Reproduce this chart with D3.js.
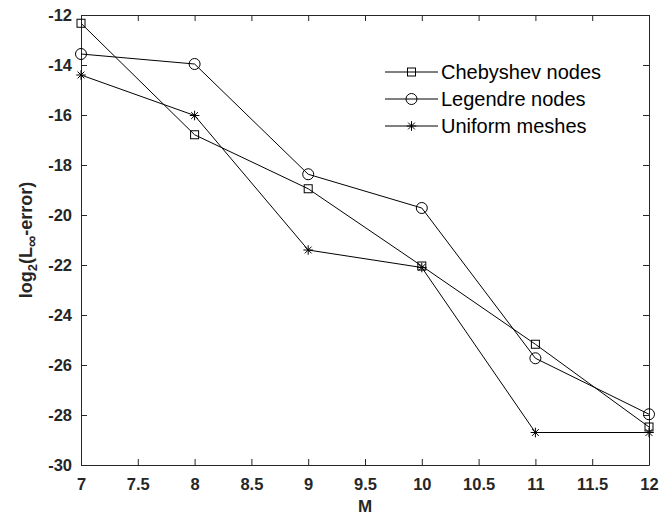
<!DOCTYPE html>
<html>
<head>
<meta charset="utf-8">
<script src="https://cdn.jsdelivr.net/npm/d3@7"></script>
<style>
  body { margin: 0; background: #fff; }
  text { font-family: "Liberation Sans", Arial, Helvetica, sans-serif; }
</style>
</head>
<body>
<svg id="chart"></svg>
<script>
var width = 659, height = 517;
var margin = {top: 15, right: 10, bottom: 52, left: 81};

// data
var mValues = [7, 8, 9, 10, 11, 12];
var chebyshev = [-12.33, -16.79, -18.95, -22.04, -25.17, -28.48];
var legendre = [-13.56, -13.96, -18.37, -19.72, -25.73, -27.97];
var uniform = [-14.4, -16.02, -21.4, -22.1, -28.7, -28.7];
var seriesNames = ["Chebyshev nodes", "Legendre nodes", "Uniform meshes"];
var markers = ["square", "circle", "star"];
var xTicks = [7, 7.5, 8, 8.5, 9, 9.5, 10, 10.5, 11, 11.5, 12];
var yTicks = [-30, -28, -26, -24, -22, -20, -18, -16, -14, -12];

var axisColor = "#262626";

var svg = d3.select("#chart")
    .attr("width", width)
    .attr("height", height);

var x = d3.scaleLinear().domain([7, 12]).range([margin.left, width - margin.right]);
var y = d3.scaleLinear().domain([-30, -12]).range([height - margin.bottom, margin.top]);

// plain hyphen minus, like the original
var fmt = function(d) { return String(d); };

// box + ticks (MATLAB style, ticks pointing inward)
function styleAxis(g) {
    g.select(".domain").attr("stroke", axisColor).attr("stroke-width", 1);
    g.selectAll(".tick line").attr("stroke", axisColor);
    g.selectAll(".tick text")
        .attr("fill", axisColor)
        .style("font-size", "16.5px")
        .style("font-weight", "bold");
}

svg.append("g")
    .attr("transform", "translate(0," + y(-30) + ")")
    .call(d3.axisBottom(x).tickValues(xTicks).tickFormat(fmt).tickSizeInner(-6).tickSizeOuter(0).tickPadding(13))
    .call(styleAxis);

svg.append("g")
    .attr("transform", "translate(0," + y(-12) + ")")
    .call(d3.axisTop(x).tickValues(xTicks).tickFormat("").tickSizeInner(-6).tickSizeOuter(0))
    .call(styleAxis);

svg.append("g")
    .attr("transform", "translate(" + x(7) + ",0)")
    .call(d3.axisLeft(y).tickValues(yTicks).tickFormat(fmt).tickSizeInner(-6).tickSizeOuter(0).tickPadding(9))
    .call(styleAxis);

svg.append("g")
    .attr("transform", "translate(" + x(12) + ",0)")
    .call(d3.axisRight(y).tickValues(yTicks).tickFormat("").tickSizeInner(-6).tickSizeOuter(0))
    .call(styleAxis);

// axis labels
svg.append("text")
    .attr("x", (x(7) + x(12)) / 2)
    .attr("y", 512)
    .attr("text-anchor", "middle")
    .attr("fill", axisColor)
    .style("font-size", "17px")
    .style("font-weight", "bold")
    .text("M");

var yLabel = svg.append("text")
    .attr("transform", "translate(32," + ((y(-12) + y(-30)) / 2) + ") rotate(-90)")
    .attr("text-anchor", "middle")
    .attr("fill", axisColor)
    .style("font-size", "18px")
    .style("font-weight", "bold");
yLabel.append("tspan").text("log");
yLabel.append("tspan").attr("dy", 5).style("font-size", "13px").text("2");
yLabel.append("tspan").attr("dy", -5).text("(L");
yLabel.append("tspan").attr("dy", 5).style("font-size", "16px").text("\u221E");
yLabel.append("tspan").attr("dy", -5).text("-error)");

// marker shapes
function drawMarker(g, type, cx, cy) {
    if (type === "square") {
        g.append("rect")
            .attr("x", cx - 4).attr("y", cy - 4)
            .attr("width", 8).attr("height", 8)
            .attr("fill", "none").attr("stroke", "#000").attr("stroke-width", 1);
    } else if (type === "circle") {
        g.append("circle")
            .attr("cx", cx).attr("cy", cy).attr("r", 5.5)
            .attr("fill", "none").attr("stroke", "#000").attr("stroke-width", 1);
    } else {
        var r = 4.8, d = 3.4;
        var p = "M" + (cx - r) + "," + cy + "L" + (cx + r) + "," + cy +
            "M" + cx + "," + (cy - r) + "L" + cx + "," + (cy + r) +
            "M" + (cx - d) + "," + (cy - d) + "L" + (cx + d) + "," + (cy + d) +
            "M" + (cx - d) + "," + (cy + d) + "L" + (cx + d) + "," + (cy - d);
        g.append("path").attr("d", p).attr("stroke", "#000").attr("stroke-width", 1).attr("fill", "none");
    }
}

var allSeries = [chebyshev, legendre, uniform];

var line = d3.line()
    .x(function(d, i) { return x(mValues[i]); })
    .y(function(d) { return y(d); });

allSeries.forEach(function(vals, k) {
    var g = svg.append("g");
    g.append("path")
        .datum(vals)
        .attr("d", line)
        .attr("fill", "none")
        .attr("stroke", "#000")
        .attr("stroke-width", 1);
    vals.forEach(function(v, i) {
        drawMarker(g, markers[k], x(mValues[i]), y(v));
    });
});

// legend
var legendX = 385, legendY = 72, rowGap = 27;
seriesNames.forEach(function(name, k) {
    var g = svg.append("g");
    var ly = legendY + k * rowGap;
    g.append("line")
        .attr("x1", legendX).attr("x2", legendX + 53)
        .attr("y1", ly).attr("y2", ly)
        .attr("stroke", "#000").attr("stroke-width", 1);
    drawMarker(g, markers[k], legendX + 26.5, ly);
    g.append("text")
        .attr("x", legendX + 56)
        .attr("y", ly)
        .attr("dy", "0.36em")
        .attr("fill", "#000")
        .style("font-size", "20px")
        .text(name);
});
</script>
</body>
</html>
